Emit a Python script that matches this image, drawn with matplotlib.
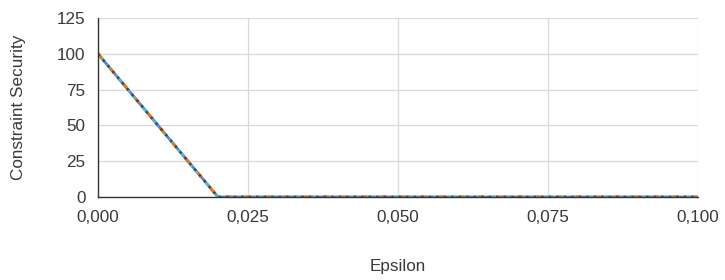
import matplotlib
matplotlib.use("Agg")
from matplotlib import pyplot as plt
from matplotlib.ticker import FuncFormatter

plt.rcParams['font.family'] = ['Liberation Sans', 'DejaVu Sans']

epsilon = [0.0, 0.005, 0.01, 0.015, 0.02, 0.025, 0.03, 0.04, 0.05, 0.06, 0.07, 0.08, 0.09, 0.1]
security_a = [100, 75, 50, 25, 0, 0, 0, 0, 0, 0, 0, 0, 0, 0]
security_b = [100, 75, 50, 25, 0, 0, 0, 0, 0, 0, 0, 0, 0, 0]
security_c = [100, 75, 50, 25, 0, 0, 0, 0, 0, 0, 0, 0, 0, 0]
security_d = [100, 75, 50, 25, 0, 0, 0, 0, 0, 0, 0, 0, 0, 0]

fig = plt.figure(figsize=(7.25, 2.8), dpi=100)
ax = fig.add_axes([98/725, 1 - 197/280, 600/725, 179/280])

# overlapping series, each dashed so the colours show through
ax.plot(epsilon, security_a, color='#4285F4', lw=2.0, solid_capstyle='butt')
ax.plot(epsilon, security_b, color='#46BDC6', lw=2.0, dashes=(3, 2))
ax.plot(epsilon, security_c, color='#FF6D01', lw=2.0, dashes=(2, 5), dash_capstyle='butt')
ax.plot(epsilon, security_d, color='#6B3A2A', lw=1.8, dashes=(1, 2), dash_capstyle='butt')

ax.set_xlim(0, 0.1)
ax.set_ylim(0, 125)
ax.set_xticks([0, 0.025, 0.05, 0.075, 0.1])
ax.set_yticks([0, 25, 50, 75, 100, 125])
ax.xaxis.set_major_formatter(FuncFormatter(lambda v, p: f"{v:.3f}".replace('.', ',')))
ax.grid(True, color='#d9d9d9', lw=0.9)
ax.set_axisbelow(True)
for s in ['top', 'right']:
    ax.spines[s].set_visible(False)
for s in ['left', 'bottom']:
    ax.spines[s].set_color('#333333')
    ax.spines[s].set_linewidth(1.0)
ax.tick_params(length=0, labelsize=12.3, colors='#3a3a3a')
ax.tick_params(axis='y', pad=9)
ax.tick_params(axis='x', pad=9)
ax.set_xlabel('Epsilon', fontsize=12.3, color='#3a3a3a')
ax.set_ylabel('Constraint Security', fontsize=12.3, color='#3a3a3a')
ax.xaxis.set_label_coords(0.5, -(267 - 197) / 179, transform=ax.transAxes)
ax.xaxis.label.set_va('center')
ax.yaxis.set_label_coords((19 - 98) / 600, 0.5, transform=ax.transAxes)
ax.yaxis.label.set_va('center')

plt.savefig('out.png', dpi=100)
